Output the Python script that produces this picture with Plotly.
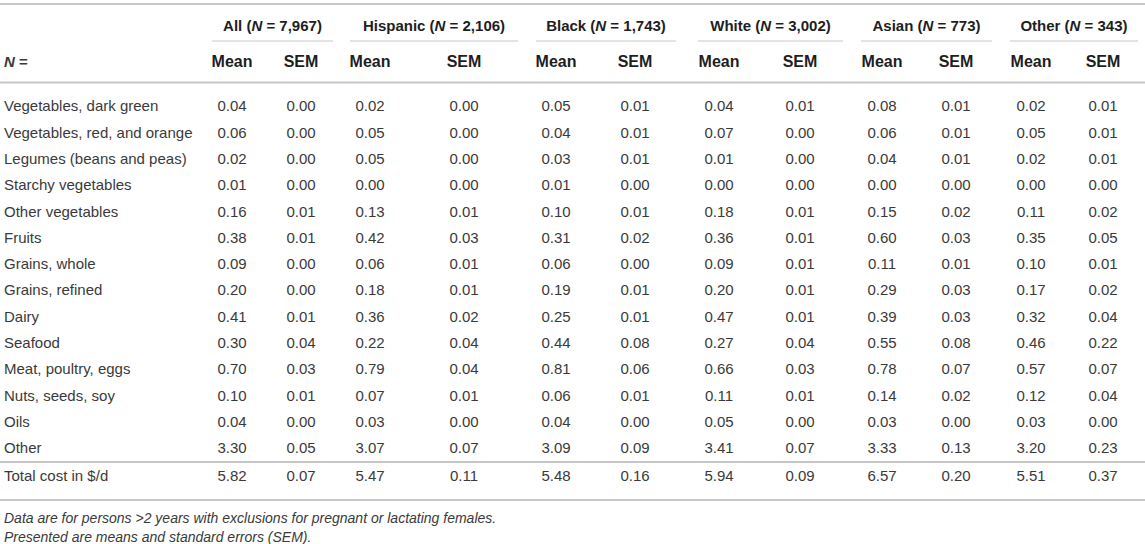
import plotly.graph_objects as go

# ---------------------------------------------------------------- data
row_labels = [
    "Vegetables, dark green", "Vegetables, red, and orange", "Legumes (beans and peas)",
    "Starchy vegetables", "Other vegetables", "Fruits", "Grains, whole", "Grains, refined",
    "Dairy", "Seafood", "Meat, poultry, eggs", "Nuts, seeds, soy", "Oils", "Other",
    "Total cost in $/d",
]
groups = ["All", "Hispanic", "Black", "White", "Asian", "Other"]
group_n = ["7,967", "2,106", "1,743", "3,002", "773", "343"]

all_mean = [0.04, 0.06, 0.02, 0.01, 0.16, 0.38, 0.09, 0.20, 0.41, 0.30, 0.70, 0.10, 0.04, 3.30, 5.82]
all_sem = [0.00, 0.00, 0.00, 0.00, 0.01, 0.01, 0.00, 0.00, 0.01, 0.04, 0.03, 0.01, 0.00, 0.05, 0.07]
hispanic_mean = [0.02, 0.05, 0.05, 0.00, 0.13, 0.42, 0.06, 0.18, 0.36, 0.22, 0.79, 0.07, 0.03, 3.07, 5.47]
hispanic_sem = [0.00, 0.00, 0.00, 0.00, 0.01, 0.03, 0.01, 0.01, 0.02, 0.04, 0.04, 0.01, 0.00, 0.07, 0.11]
black_mean = [0.05, 0.04, 0.03, 0.01, 0.10, 0.31, 0.06, 0.19, 0.25, 0.44, 0.81, 0.06, 0.04, 3.09, 5.48]
black_sem = [0.01, 0.01, 0.01, 0.00, 0.01, 0.02, 0.00, 0.01, 0.01, 0.08, 0.06, 0.01, 0.00, 0.09, 0.16]
white_mean = [0.04, 0.07, 0.01, 0.00, 0.18, 0.36, 0.09, 0.20, 0.47, 0.27, 0.66, 0.11, 0.05, 3.41, 5.94]
white_sem = [0.01, 0.00, 0.00, 0.00, 0.01, 0.01, 0.01, 0.01, 0.01, 0.04, 0.03, 0.01, 0.00, 0.07, 0.09]
asian_mean = [0.08, 0.06, 0.04, 0.00, 0.15, 0.60, 0.11, 0.29, 0.39, 0.55, 0.78, 0.14, 0.03, 3.33, 6.57]
asian_sem = [0.01, 0.01, 0.01, 0.00, 0.02, 0.03, 0.01, 0.03, 0.03, 0.08, 0.07, 0.02, 0.00, 0.13, 0.20]
other_mean = [0.02, 0.05, 0.02, 0.00, 0.11, 0.35, 0.10, 0.17, 0.32, 0.46, 0.57, 0.12, 0.03, 3.20, 5.51]
other_sem = [0.01, 0.01, 0.01, 0.00, 0.02, 0.05, 0.01, 0.02, 0.04, 0.22, 0.07, 0.04, 0.00, 0.23, 0.37]

footnotes = [
    "Data are for persons >2 years with exclusions for pregnant or lactating females.",
    "Presented are means and standard errors (SEM).",
]

# -------------------------------------------------------------- layout
W, H = 1145, 544
FONT = "Liberation Sans, Arial, sans-serif"
FS = 15
TXT = "#3a3a3a"
HDR = "#1e1e1e"

values = [
    (all_mean, all_sem), (hispanic_mean, hispanic_sem), (black_mean, black_sem),
    (white_mean, white_sem), (asian_mean, asian_sem), (other_mean, other_sem),
]
# column centres (mean, sem) and underline span for each group, in px
col_x = [(232, 301), (370, 464), (556, 635), (719, 800), (882, 956), (1031, 1103)]
spans = [(212, 333), (350, 518), (536, 676), (698, 843), (861, 992), (1010, 1138)]

DY = 2  # plotly's "middle" sits text a touch high
LABEL_X = 4
Y_GROUP = 25 + DY
Y_UNDER = 41
Y_SUB = 61 + DY
Y_ROW0 = 105.6 + DY
ROW_H = 26.3
row_y = [Y_ROW0 + ROW_H * i for i in range(len(row_labels) - 1)] + [475 + DY]
Y_FOOT = [517 + DY, 536 + DY]

fig = go.Figure()

# row labels
fig.add_trace(go.Scatter(
    x=[LABEL_X] * (len(row_labels) + 1), y=[Y_SUB] + row_y,
    text=["<b><i>N</i> =</b>"] + row_labels,
    mode="text", textposition="middle right",
    textfont=dict(family=FONT, size=FS, color=TXT),
    hoverinfo="skip", showlegend=False,
))

# group headers
fig.add_trace(go.Scatter(
    x=[(a + b) / 2 for a, b in spans], y=[Y_GROUP] * len(groups),
    text=[f"<b>{g} (<i>N</i> = {n})</b>" for g, n in zip(groups, group_n)],
    mode="text", textposition="middle center",
    textfont=dict(family=FONT, size=FS, color=HDR),
    hoverinfo="skip", showlegend=False,
))

# Mean / SEM sub headers and values
for (mx, sx), (mean, sem) in zip(col_x, values):
    fig.add_trace(go.Scatter(
        x=[mx, sx], y=[Y_SUB, Y_SUB], text=["<b>Mean</b>", "<b>SEM</b>"],
        mode="text", textposition="middle center",
        textfont=dict(family=FONT, size=FS + 1, color=HDR),
        hoverinfo="skip", showlegend=False,
    ))
    fig.add_trace(go.Scatter(
        x=[mx] * len(mean) + [sx] * len(sem), y=row_y + row_y,
        text=[f"{v:.2f}" for v in mean] + [f"{v:.2f}" for v in sem],
        mode="text", textposition="middle center",
        textfont=dict(family=FONT, size=FS, color=TXT),
        hoverinfo="skip", showlegend=False,
    ))

# footnotes
fig.add_trace(go.Scatter(
    x=[LABEL_X] * len(footnotes), y=Y_FOOT,
    text=[f"<i>{t}</i>" for t in footnotes],
    mode="text", textposition="middle right",
    textfont=dict(family=FONT, size=FS - 1, color=TXT),
    hoverinfo="skip", showlegend=False,
))

# rules
shapes = []
for y, w, c in [(4, 2, "#c8c8c8"), (82.5, 2, "#c8c8c8"), (462, 1, "#8c8c8c"), (500, 2, "#c8c8c8")]:
    shapes.append(dict(type="line", xref="x", yref="y", x0=0, x1=W, y0=y, y1=y,
                       line=dict(color=c, width=w)))
for a, b in spans:
    shapes.append(dict(type="line", xref="x", yref="y", x0=a, x1=b, y0=Y_UNDER, y1=Y_UNDER,
                       line=dict(color="#c8c8c8", width=1)))

fig.update_layout(
    width=W, height=H,
    margin=dict(l=0, r=0, t=0, b=0),
    paper_bgcolor="white", plot_bgcolor="white",
    xaxis=dict(range=[0, W], visible=False, fixedrange=True),
    yaxis=dict(range=[H, 0], visible=False, fixedrange=True),
    shapes=shapes,
)

# drop the page's default body margin so the table sits at the window's corner
fig.write_html(
    "out.html",
    config=dict(displayModeBar=False),
    post_script="document.body.style.margin='0';document.body.style.overflow='hidden';",
)
